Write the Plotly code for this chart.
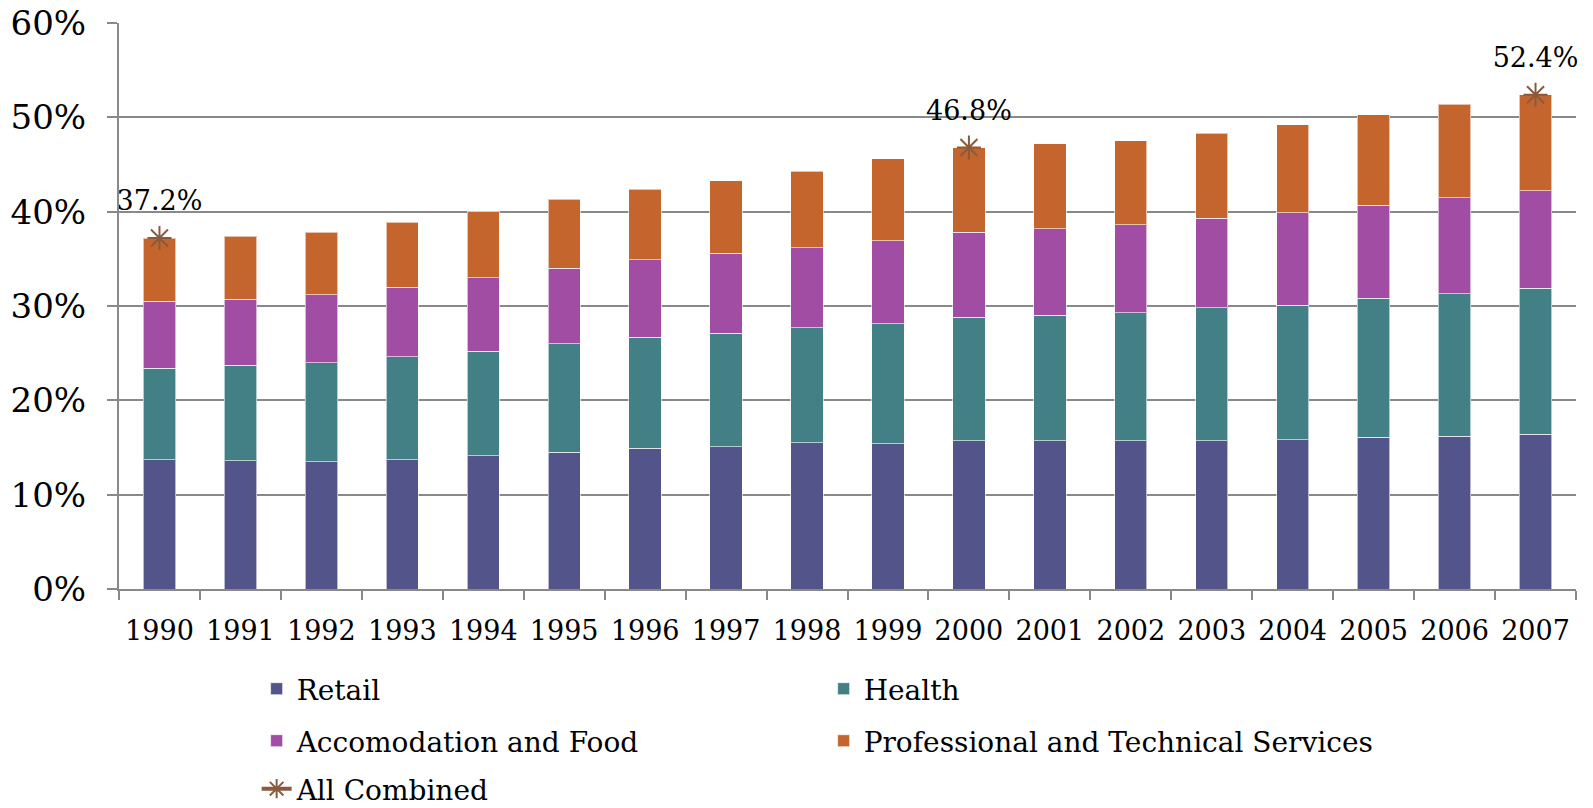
import plotly.graph_objects as go

years = [str(y) for y in range(1990, 2008)]
retail = [13.7, 13.6, 13.5, 13.7, 14.1, 14.5, 14.9, 15.1, 15.5, 15.4, 15.7, 15.7, 15.7, 15.7, 15.8, 16.1, 16.2, 16.4]
health = [9.7, 10.1, 10.5, 10.9, 11.1, 11.5, 11.8, 12.0, 12.2, 12.7, 13.1, 13.3, 13.6, 14.1, 14.3, 14.7, 15.1, 15.5]
accom = [7.1, 7.0, 7.2, 7.4, 7.8, 8.0, 8.2, 8.5, 8.5, 8.8, 9.0, 9.2, 9.3, 9.5, 9.8, 9.9, 10.2, 10.3]
prof = [6.7, 6.7, 6.6, 6.9, 7.0, 7.3, 7.5, 7.7, 8.1, 8.7, 9.0, 9.0, 8.9, 9.0, 9.3, 9.6, 9.9, 10.2]
combined = [37.2] + [None] * 9 + [46.8] + [None] * 6 + [52.4]
combined_labels = ["" if v is None else f"{v:.1f}%" for v in combined]
ytick_vals = [0, 10, 20, 30, 40, 50, 60]
ytick_text = ["0%", "10%", "20%", "30%", "40%", "50%", "60%"]

FONT = "DejaVu Serif"
series = [
    ("Retail", retail, "#53548A", "legend"),
    ("Health", health, "#438086", "legend"),
    ("Accomodation and Food", accom, "#A04DA3", "legend2"),
    ("Professional and Technical Services", prof, "#C4652D", "legend2"),
]

fig = go.Figure()
for name, vals, col, lg in series:
    fig.add_trace(go.Bar(
        x=years, y=vals, name=name, legend=lg,
        marker=dict(color=col, line=dict(color="rgba(255,255,255,0.6)", width=1)),
    ))

fig.add_trace(go.Scatter(
    x=years, y=combined, name="All Combined", mode="lines+markers", legend="legend3",
    line=dict(color="#8B5A3C", width=4), connectgaps=False,
    marker=dict(symbol="asterisk-open", size=20, color="#8B5A3C", line=dict(color="#8B5A3C", width=2)),
    cliponaxis=False,
))
# value labels for the combined series
fig.add_trace(go.Scatter(
    x=years, y=combined, mode="markers+text", showlegend=False, hoverinfo="skip",
    marker=dict(size=32, opacity=0),
    text=combined_labels, textposition="top center",
    textfont=dict(family=FONT, size=27, color="#000000"),
    cliponaxis=False,
))

leg_common = dict(
    orientation="h", xref="container", yref="container", x=0.1611, xanchor="left", yanchor="middle",
    entrywidth=522, entrywidthmode="pixels",
    font=dict(family=FONT, size=28, color="#000000"),
    traceorder="normal", bgcolor="rgba(0,0,0,0)",
)

fig.update_layout(
    width=1593, height=808, autosize=False,
    barmode="stack", bargap=0.6,
    margin=dict(l=119, r=17, t=23, b=219),
    plot_bgcolor="white", paper_bgcolor="white",
    font=dict(family=FONT, size=27, color="#000000"),
    legend=dict(leg_common, y=0.1473),
    legend2=dict(leg_common, y=0.0829),
    legend3=dict(leg_common, y=0.0235),
    showlegend=True,
)
fig.update_xaxes(
    range=[-0.5, 17.5], automargin=False,
    showline=True, linecolor="#898989", linewidth=2,
    ticks="outside", tickson="boundaries", ticklen=9, tickcolor="#898989", tickwidth=2,
    tickfont=dict(family=FONT, size=27, color="#000000"),
    ticklabelstandoff=17, ticklabeloverflow="allow",
    showgrid=False,
)
fig.update_yaxes(
    range=[0, 60], tickvals=ytick_vals, ticktext=ytick_text, automargin=False,
    showline=True, linecolor="#898989", linewidth=2,
    ticks="outside", ticklen=10, tickcolor="#898989", tickwidth=2,
    showgrid=True, gridcolor="#898989", gridwidth=1.5,
    tickfont=dict(family=FONT, size=34, color="#000000"),
    ticklabelstandoff=14, ticklabeloverflow="allow",
    zeroline=False,
)

fig.write_html("out.html", config={"displayModeBar": False},
               post_script="document.body.style.margin='0';")
